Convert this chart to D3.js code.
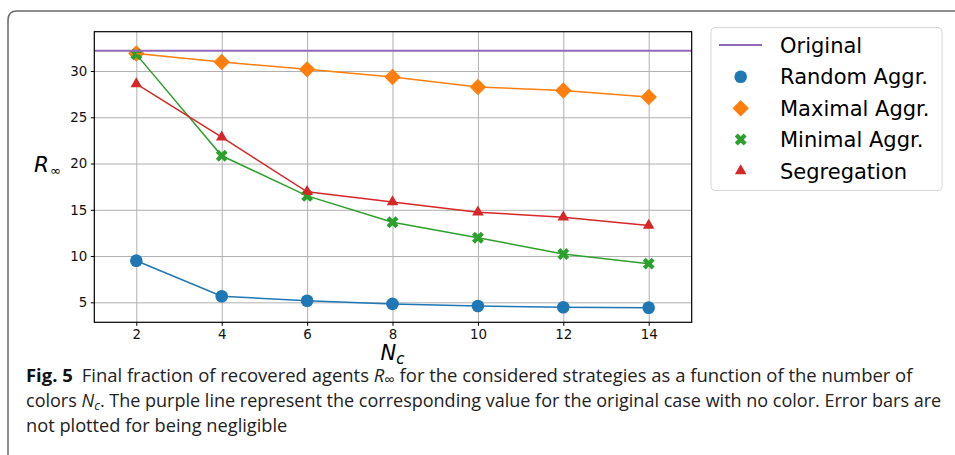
<!DOCTYPE html>
<html>
<head>
<meta charset="utf-8">
<script src="https://cdn.jsdelivr.net/npm/d3@7"></script>
<style>
    body { margin: 0; background: #fff; }
    svg { display: block; }
    .legend-text { font-family: "DejaVu Sans", sans-serif; font-size: 21px; }
    .caption { font-family: "Open Sans", sans-serif; font-size: 18.6px; fill: #222; }
</style>
</head>
<body>
<div id="chart"></div>
<script>

// number of colors
var nColors = [2, 4, 6, 8, 10, 12, 14];

// R_inf
var randomAggr = [9.5, 5.65, 5.17, 4.83, 4.6, 4.46, 4.42];
var maximalAggr = [31.9, 30.97, 30.18, 29.35, 28.27, 27.9, 27.19];
var minimalAggr = [31.8, 20.84, 16.5, 13.65, 11.98, 10.22, 9.18];
var segregation = [28.6, 22.85, 16.95, 15.85, 14.74, 14.2, 13.3];
var originalValue = 32.2;

var xTicks = [2, 4, 6, 8, 10, 12, 14];
var yTicks = [5, 10, 15, 20, 25, 30];

var seriesNames = ['Random Aggr.', 'Maximal Aggr.', 'Minimal Aggr.', 'Segregation'];
var seriesColors = ['#1f77b4', '#ff7f0e', '#2ca02c', '#d62728'];
var seriesMarkers = ['circle', 'diamond', 'x', 'triangle'];

var width = 955, height = 455;
var plot = {left: 94.3, top: 31.7, right: 691.7, bottom: 322.3};

var svg = d3.select('#chart')
    .append('svg')
    .attr('width', width)
    .attr('height', height);

// figure frame (rounded top-left corner)
svg.append('path')
    .attr('d', 'M8,456 L8,20 Q8,11 17,11 L956,11')
    .attr('fill', 'none')
    .attr('stroke', '#6a6a6a')
    .attr('stroke-width', 1.5);

var x = d3.scaleLinear()
    .domain([1.016, 15.007])
    .range([plot.left, plot.right]);

var y = d3.scaleLinear()
    .domain([2.84, 34.25])
    .range([plot.bottom, plot.top]);

var plotW = plot.right - plot.left;
var plotH = plot.bottom - plot.top;

// grid
svg.append('g')
    .attr('transform', 'translate(0,' + plot.bottom + ')')
    .call(d3.axisBottom(x).tickValues(xTicks).tickSize(-plotH).tickFormat(''))
    .call(function(g) {
        g.select('.domain').remove();
        g.selectAll('line').attr('stroke', '#b0b0b0').attr('stroke-width', 1);
    });

svg.append('g')
    .attr('transform', 'translate(' + plot.left + ',0)')
    .call(d3.axisLeft(y).tickValues(yTicks).tickSize(-plotW).tickFormat(''))
    .call(function(g) {
        g.select('.domain').remove();
        g.selectAll('line').attr('stroke', '#b0b0b0').attr('stroke-width', 1);
    });

function markerPath(type) {
    if (type == 'circle') return d3.symbol().type(d3.symbolCircle).size(125)();
    if (type == 'diamond') return d3.symbol().type(d3.symbolSquare).size(135)();
    if (type == 'x') return d3.symbol().type(d3.symbolCross).size(88)();
    return d3.symbol().type(d3.symbolTriangle).size(58)();
}

function markerRotate(type) {
    return (type == 'diamond' || type == 'x') ? ' rotate(45)' : '';
}

var allSeries = [randomAggr, maximalAggr, minimalAggr, segregation];

var line = d3.line()
    .x(function(d, i) { return x(nColors[i]); })
    .y(function(d) { return y(d); });

// markers first, then the connecting lines on top (matplotlib order)
allSeries.forEach(function(vals, k) {
    svg.append('g')
        .selectAll('path')
        .data(vals)
        .enter().append('path')
        .attr('d', markerPath(seriesMarkers[k]))
        .attr('transform', function(d, i) {
            return 'translate(' + x(nColors[i]) + ',' + y(d) + ')' + markerRotate(seriesMarkers[k]);
        })
        .attr('fill', seriesColors[k]);
});

svg.append('line')
    .attr('x1', plot.left).attr('x2', plot.right)
    .attr('y1', y(originalValue)).attr('y2', y(originalValue))
    .attr('stroke', '#9467bd')
    .attr('stroke-width', 2);

allSeries.forEach(function(vals, k) {
    svg.append('path')
        .datum(vals)
        .attr('d', line)
        .attr('fill', 'none')
        .attr('stroke', seriesColors[k])
        .attr('stroke-width', 1.5);
});

function styleTicks(g) {
    g.select('.domain').remove();
    g.selectAll('text')
        .style('font-family', '"DejaVu Sans", sans-serif')
        .style('font-size', '13.4px')
        .attr('fill', '#111');
}

// axes
svg.append('g')
    .attr('transform', 'translate(0,' + plot.bottom + ')')
    .call(d3.axisBottom(x).tickValues(xTicks).tickSize(3.5).tickPadding(3.5).tickSizeOuter(0))
    .call(styleTicks);

svg.append('g')
    .attr('transform', 'translate(' + plot.left + ',0)')
    .call(d3.axisLeft(y).tickValues(yTicks).tickSize(3.5).tickPadding(3.5).tickSizeOuter(0))
    .call(styleTicks);

svg.append('rect')
    .attr('x', plot.left).attr('y', plot.top)
    .attr('width', plotW).attr('height', plotH)
    .attr('fill', 'none')
    .attr('stroke', '#000')
    .attr('stroke-width', 1.2);

// axis labels
var ylab = svg.append('text')
    .attr('x', 34)
    .attr('y', 171.5)
    .style('font-family', '"DejaVu Sans", sans-serif')
    .style('font-style', 'italic')
    .style('font-size', '21.5px');
ylab.append('tspan').text('R');
ylab.append('tspan').attr('dx', 1).attr('dy', 3).style('font-size', '13px').style('font-style', 'normal').text('∞');

var xlab = svg.append('text')
    .attr('x', 380.5)
    .attr('y', 359.5)
    .style('font-family', '"DejaVu Sans", sans-serif')
    .style('font-style', 'italic')
    .style('font-size', '21px');
xlab.append('tspan').text('N');
xlab.append('tspan').attr('dy', 4).style('font-size', '15px').text('c');

// legend
var legend = svg.append('g');
legend.append('rect')
    .attr('x', 711).attr('y', 27.5)
    .attr('width', 231).attr('height', 163)
    .attr('rx', 4)
    .attr('fill', '#fff')
    .attr('stroke', '#d8d8d8')
    .attr('stroke-width', 1);

var legendY = [45, 76.7, 108.2, 139.5, 171];

legend.append('line')
    .attr('x1', 719).attr('x2', 762)
    .attr('y1', legendY[0]).attr('y2', legendY[0])
    .attr('stroke', '#9467bd')
    .attr('stroke-width', 2);
legend.append('text')
    .attr('class', 'legend-text')
    .attr('x', 780).attr('y', legendY[0] + 7.6)
    .text('Original');

seriesNames.forEach(function(name, k) {
    legend.append('path')
        .attr('d', markerPath(seriesMarkers[k]))
        .attr('transform', 'translate(740.7,' + legendY[k + 1] + ')' + markerRotate(seriesMarkers[k]))
        .attr('fill', seriesColors[k]);
    legend.append('text')
        .attr('class', 'legend-text')
        .attr('x', 780).attr('y', legendY[k + 1] + 7.6)
        .text(name);
});

// caption, one group per line so each can be squeezed to the original width
var capLines = [382, 407, 432];
var capWidths = [878, 916];

var g1 = svg.append('g');
var t1 = g1.append('text').attr('class', 'caption').attr('x', 0).attr('y', capLines[0]);
t1.append('tspan').style('font-weight', 'bold').style('fill', '#111').text('Fig. 5');
t1.append('tspan').attr('dx', 9).text('Final fraction of recovered agents ');
t1.append('tspan').style('font-style', 'italic').text('R');
t1.append('tspan').attr('dy', 3).style('font-size', '15px').text('∞');
t1.append('tspan').attr('dy', -3).text(' for the considered strategies as a function of the number of');

var g2 = svg.append('g');
var t2 = g2.append('text').attr('class', 'caption').attr('x', 0).attr('y', capLines[1]);
t2.append('tspan').text('colors ');
t2.append('tspan').style('font-style', 'italic').text('N');
t2.append('tspan').attr('dy', 3).style('font-size', '13px').style('font-style', 'italic').text('c');
t2.append('tspan').attr('dy', -3).text('. The purple line represent the corresponding value for the original case with no color. Error bars are');

var g3 = svg.append('g');
g3.append('text').attr('class', 'caption').attr('x', 0).attr('y', capLines[2])
    .text('not plotted for being negligible');

var k1 = capWidths[0] / t1.node().getComputedTextLength();
var k2 = capWidths[1] / t2.node().getComputedTextLength();
g1.attr('transform', 'translate(26,0) scale(' + k1 + ',1)');
g2.attr('transform', 'translate(26,0) scale(' + k2 + ',1)');
g3.attr('transform', 'translate(26,0) scale(' + ((k1 + k2) / 2) + ',1)');

</script>
</body>
</html>
